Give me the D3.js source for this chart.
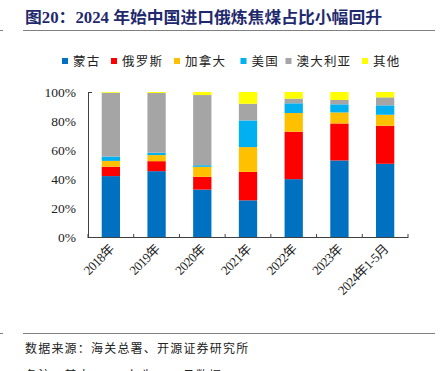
<!DOCTYPE html>
<html><head><meta charset="utf-8">
<script src="https://cdn.jsdelivr.net/npm/d3@7"></script>
<style>
body{margin:0;background:#fff;}
svg{display:block;}
</style></head>
<body>
<script>
const categories = ["2018年","2019年","2020年","2021年","2022年","2023年","2024年1-5月"];
const seriesNames = ["蒙古","俄罗斯","加拿大","美国","澳大利亚","其他"];
const mongolia  = [42.0, 45.4, 32.7, 25.3, 39.9, 52.8, 50.5];
const russia    = [6.5, 6.9, 8.8, 19.6, 32.7, 25.5, 26.2];
const canada    = [4.0, 4.2, 6.9, 17.1, 12.9, 7.6, 7.6];
const usa       = [3.0, 1.6, 1.1, 18.4, 6.7, 5.6, 6.5];
const australia = [44.0, 41.2, 48.4, 11.5, 3.2, 3.0, 5.5];
const others    = [0.5, 0.7, 2.1, 8.1, 4.6, 5.5, 3.7];
const yTicks = [0, 20, 40, 60, 80, 100];
const colors = ["#0070C0","#FF0000","#FFC000","#00B0F0","#A5A5A5","#FFFF00"];

const W = 441, H = 371;
const svg = d3.select("body").append("svg").attr("width", W).attr("height", H);
const serif = "'Liberation Serif','Noto Sans CJK SC',serif";
const cjk = "'Liberation Serif','Noto Sans CJK SC',sans-serif";

// Title
svg.append("text").attr("x", 25).attr("y", 23)
  .attr("font-family", cjk).attr("font-weight", "bold").attr("font-size", 16)
  .attr("fill", "#1F2A6E")
  .attr("textLength", 357).attr("lengthAdjust", "spacingAndGlyphs")
  .text("图20：2024 年始中国进口俄炼焦煤占比小幅回升");
svg.append("line").attr("x1", 23).attr("x2", 435).attr("y1", 30.5).attr("y2", 30.5)
  .attr("stroke", "#808080").attr("stroke-width", 1);
svg.append("line").attr("x1", 0).attr("x2", 3).attr("y1", 30.5).attr("y2", 30.5)
  .attr("stroke", "#808080").attr("stroke-width", 1);

// Legend
const legendX = [62, 111, 174, 240.5, 285.5, 362];
const lg = svg.append("g");
seriesNames.forEach((n, i) => {
  lg.append("rect").attr("x", legendX[i]).attr("y", 58).attr("width", 6).attr("height", 6).attr("fill", colors[i]);
  lg.append("text").attr("x", legendX[i] + 11).attr("y", 66)
    .attr("font-family", cjk).attr("font-size", 12.5).attr("letter-spacing", 1.2)
    .attr("fill", "#222").text(n);
});

// Scales
const x = d3.scaleBand().domain(categories).range([88, 408]).paddingInner(0.6).paddingOuter(0.3);
const y = d3.scaleLinear().domain([0, 100]).range([237, 92]);

const table = categories.map((c, i) => ({
  cat: c, "蒙古": mongolia[i], "俄罗斯": russia[i], "加拿大": canada[i],
  "美国": usa[i], "澳大利亚": australia[i], "其他": others[i]
}));
const stacked = d3.stack().keys(seriesNames)(table);

const bars = svg.append("g");
stacked.forEach((s, si) => {
  bars.selectAll(null).data(s).enter().append("rect")
    .attr("x", d => x(d.data.cat))
    .attr("width", x.bandwidth())
    .attr("y", d => y(Math.min(100, d[1])))
    .attr("height", d => Math.max(0, y(d[0]) - y(Math.min(100, d[1]))))
    .attr("fill", colors[si]);
});

// Y axis
const yAxis = d3.axisLeft(y).tickValues(yTicks).tickSize(0).tickPadding(12).tickFormat(d => d + "%");
const ya = svg.append("g").attr("transform", "translate(88,0)").call(yAxis);
ya.select(".domain").attr("stroke", "#404040");
ya.selectAll("text").attr("font-family", serif).attr("font-size", 13.5).attr("fill", "#222");
svg.append("line").attr("x1", 88).attr("x2", 92).attr("y1", y(100)+0.5).attr("y2", y(100)+0.5).attr("stroke", "#404040");

// X axis
const step = (408 - 88) / categories.length;
const xg = svg.append("g");
xg.append("line").attr("x1", 88).attr("x2", 408).attr("y1", 237.5).attr("y2", 237.5).attr("stroke", "#404040");
d3.range(categories.length + 1).forEach(i => {
  xg.append("line").attr("x1", 88 + i * step).attr("x2", 88 + i * step)
    .attr("y1", 234).attr("y2", 238).attr("stroke", "#404040");
});
categories.forEach(c => {
  const cx = x(c) + x.bandwidth() / 2 + 4;
  xg.append("text").attr("transform", `translate(${cx},250) rotate(-45)`)
    .attr("text-anchor", "end").attr("font-family", cjk).attr("font-size", 13).attr("letter-spacing", -0.5)
    .attr("fill", "#222").text(c);
});

// Footer
svg.append("line").attr("x1", 23).attr("x2", 435).attr("y1", 333.5).attr("y2", 333.5)
  .attr("stroke", "#808080").attr("stroke-width", 1);
svg.append("line").attr("x1", 0).attr("x2", 3).attr("y1", 333.5).attr("y2", 333.5)
  .attr("stroke", "#808080").attr("stroke-width", 1);
svg.append("text").attr("x", 25).attr("y", 353).attr("font-family", cjk).attr("font-size", 12)
  .attr("letter-spacing", 1.2).attr("fill", "#222").text("数据来源：海关总署、开源证券研究所");
svg.append("text").attr("x", 25).attr("y", 380).attr("font-family", cjk).attr("font-size", 12)
  .attr("letter-spacing", 1.2).attr("fill", "#222").text("备注：其中 2024 年为 1-5 月数据");
</script>
</body></html>
